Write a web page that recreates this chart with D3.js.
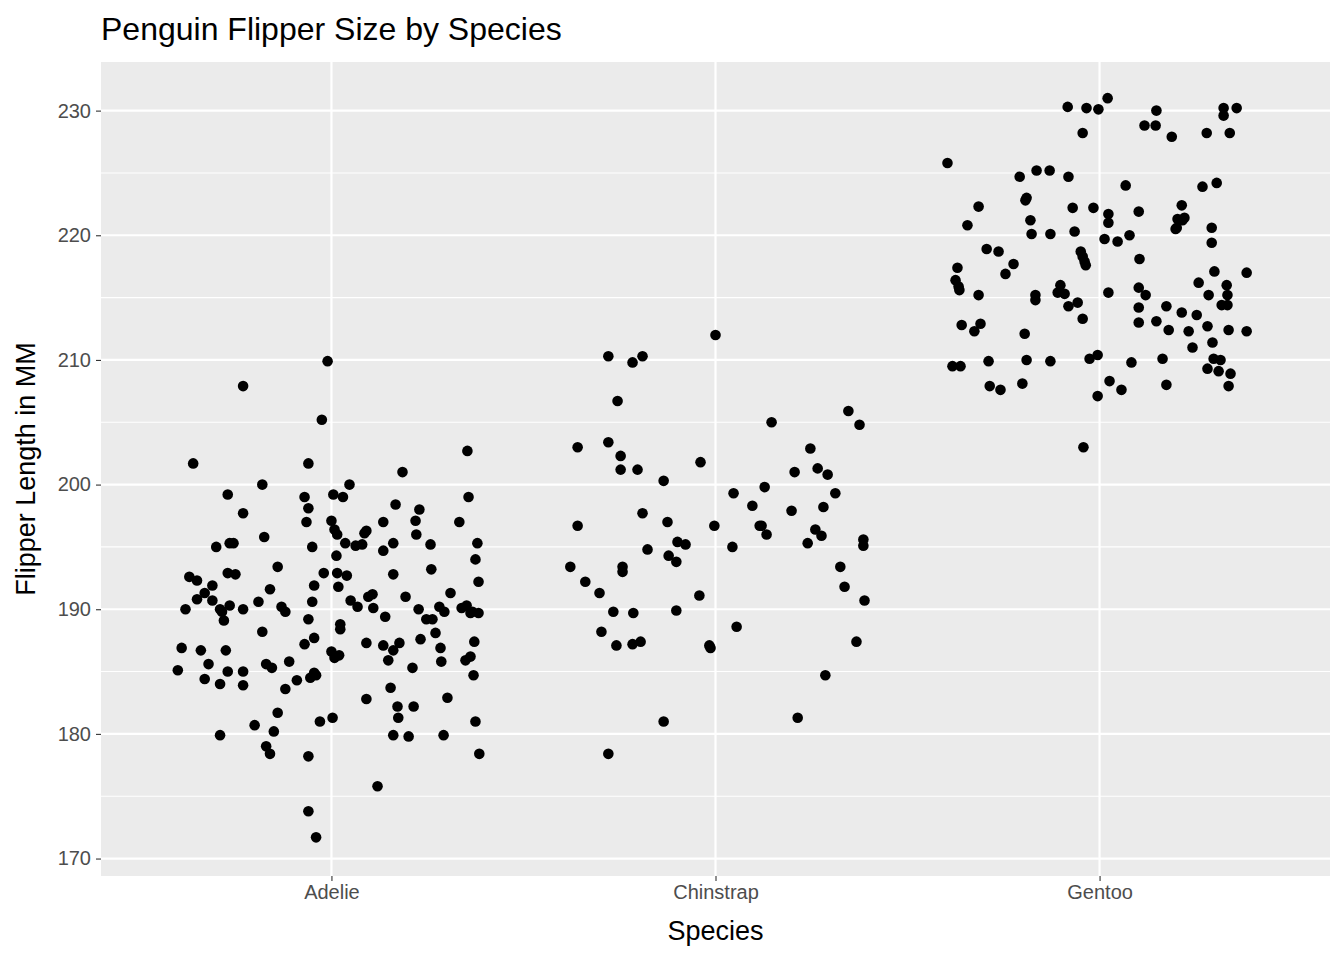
<!DOCTYPE html>
<html><head><meta charset="utf-8">
<script src="https://cdn.jsdelivr.net/npm/d3@7"></script>
<style>body{margin:0;background:#fff}text{font-family:"Liberation Sans",Arial,sans-serif}</style>
</head><body><svg id="vis" width="1344" height="960"></svg>
<script>
// DATA: [jitter offset in category units, flipper length mm]
const species = ["Adelie", "Chinstrap", "Gentoo"];
const yTicks = [170, 180, 190, 200, 210, 220, 230];
const yMinor = [175, 185, 195, 205, 215, 225];

const adelie = [[-0.40,185.1],[-0.39,186.9],[-0.38,190.0],[-0.37,192.6],[-0.35,192.3],[-0.36,201.7],[-0.35,190.8],[-0.34,186.7],[-0.33,191.3],[-0.33,184.4],[-0.32,185.6],[-0.31,191.9],[-0.31,190.7],[-0.30,195.0],[-0.29,184.0],[-0.29,190.0],[-0.29,179.9],[-0.285,189.8],[-0.28,189.1],[-0.275,186.7],[-0.27,192.9],[-0.27,199.2],[-0.27,185.0],[-0.265,190.3],[-0.265,195.3],[-0.255,195.3],[-0.25,192.8],[-0.23,197.7],[-0.23,207.9],[-0.23,190.0],[-0.23,185.0],[-0.23,183.9],[-0.20,180.7],[-0.19,190.6],[-0.18,200.0],[-0.18,188.2],[-0.175,195.8],[-0.17,185.6],[-0.17,179.0],[-0.16,178.4],[-0.16,191.6],[-0.155,185.3],[-0.15,180.2],[-0.14,193.4],[-0.14,181.7],[-0.13,190.2],[-0.12,189.8],[-0.12,183.6],[-0.11,185.8],[-0.09,184.3],[-0.07,187.2],[-0.07,199.0],[-0.06,201.7],[-0.06,198.1],[-0.065,197.0],[-0.06,189.2],[-0.06,178.2],[-0.06,173.8],[-0.055,184.5],[-0.05,190.6],[-0.05,195.0],[-0.045,191.9],[-0.045,184.9],[-0.045,187.7],[-0.04,171.7],[-0.04,184.7],[-0.03,181.0],[-0.025,205.2],[-0.02,192.9],[-0.01,209.9],[0.0,197.1],[0.0,186.6],[0.003,181.3],[0.005,199.2],[0.008,196.4],[0.008,186.1],[0.013,194.3],[0.015,192.9],[0.015,196.0],[0.018,191.8],[0.02,186.3],[0.023,188.4],[0.023,188.8],[0.03,199.0],[0.036,195.3],[0.04,192.7],[0.047,200.0],[0.05,190.7],[0.063,195.1],[0.068,190.2],[0.08,195.2],[0.086,196.1],[0.091,196.3],[0.091,187.3],[0.091,182.8],[0.096,191.0],[0.107,191.2],[0.109,190.1],[0.12,175.8],[0.135,197.0],[0.135,194.7],[0.135,187.1],[0.14,189.4],[0.148,185.9],[0.154,183.7],[0.161,179.9],[0.161,186.7],[0.161,192.8],[0.161,195.3],[0.167,198.4],[0.172,182.2],[0.174,181.3],[0.177,187.3],[0.185,201.0],[0.193,191.0],[0.201,179.8],[0.211,185.3],[0.214,182.2],[0.219,197.1],[0.221,196.0],[0.227,190.0],[0.229,198.0],[0.232,187.6],[0.247,189.2],[0.258,195.2],[0.260,193.2],[0.263,189.2],[0.271,188.1],[0.281,190.2],[0.284,186.9],[0.286,185.8],[0.292,179.9],[0.294,189.8],[0.302,182.9],[0.310,191.3],[0.333,197.0],[0.339,190.1],[0.349,185.9],[0.352,190.3],[0.354,202.7],[0.357,199.0],[0.362,189.7],[0.362,186.2],[0.367,189.8],[0.370,184.7],[0.372,187.4],[0.375,181.0],[0.375,194.0],[0.380,195.3],[0.383,192.2],[0.383,189.7],[0.385,178.4]];

const chinstrap = [[-0.378,193.4],[-0.359,203.0],[-0.359,196.7],[-0.339,192.2],[-0.302,191.3],[-0.297,188.2],[-0.279,210.3],[-0.279,203.4],[-0.279,178.4],[-0.266,189.8],[-0.258,187.1],[-0.255,206.7],[-0.247,202.3],[-0.247,201.2],[-0.242,193.4],[-0.242,193.0],[-0.216,209.8],[-0.216,187.2],[-0.214,189.7],[-0.203,201.2],[-0.195,187.4],[-0.190,210.3],[-0.190,197.7],[-0.177,194.8],[-0.135,200.3],[-0.135,181.0],[-0.125,197.0],[-0.122,194.3],[-0.102,193.8],[-0.102,189.9],[-0.099,195.4],[-0.078,195.2],[-0.042,191.1],[-0.039,201.8],[-0.016,187.1],[-0.013,186.9],[-0.003,196.7],[0.0,212.0],[0.044,195.0],[0.047,199.3],[0.055,188.6],[0.096,198.3],[0.115,196.7],[0.12,196.7],[0.128,199.8],[0.133,196.0],[0.146,205.0],[0.198,197.9],[0.206,201.0],[0.214,181.3],[0.240,195.3],[0.247,202.9],[0.260,196.4],[0.266,201.3],[0.276,195.9],[0.281,198.2],[0.286,184.7],[0.292,200.8],[0.312,199.3],[0.325,193.4],[0.336,191.8],[0.346,205.9],[0.367,187.4],[0.375,204.8],[0.385,195.6],[0.385,195.1],[0.388,190.7]];

const gentoo = [[-0.396,225.8],[-0.383,209.5],[-0.375,216.4],[-0.370,217.4],[-0.367,215.9],[-0.365,215.6],[-0.362,209.5],[-0.359,212.8],[-0.344,220.8],[-0.326,212.3],[-0.315,222.3],[-0.315,215.2],[-0.310,212.9],[-0.294,218.9],[-0.289,209.9],[-0.286,207.9],[-0.263,218.7],[-0.258,207.6],[-0.245,216.9],[-0.224,217.7],[-0.208,224.7],[-0.201,208.1],[-0.195,212.1],[-0.190,210.0],[-0.193,222.8],[-0.190,223.0],[-0.180,221.2],[-0.177,220.1],[-0.167,215.2],[-0.167,214.8],[-0.164,225.2],[-0.130,225.2],[-0.128,220.1],[-0.128,209.9],[-0.109,215.4],[-0.102,216.0],[-0.091,215.3],[-0.083,230.3],[-0.081,224.7],[-0.081,214.3],[-0.070,222.2],[-0.065,220.3],[-0.057,214.6],[-0.049,218.7],[-0.044,218.3],[-0.044,228.2],[-0.044,213.3],[-0.042,203.0],[-0.039,217.9],[-0.036,217.6],[-0.034,230.2],[-0.026,210.1],[-0.016,222.2],[-0.005,210.4],[-0.005,207.1],[-0.003,230.1],[0.013,219.7],[0.021,231.0],[0.023,221.7],[0.023,221.0],[0.023,215.4],[0.026,208.3],[0.047,219.5],[0.057,207.6],[0.068,224.0],[0.078,220.0],[0.083,209.8],[0.102,221.9],[0.102,215.8],[0.102,214.2],[0.102,213.0],[0.104,218.1],[0.117,228.8],[0.120,215.2],[0.146,228.8],[0.148,230.0],[0.148,213.1],[0.164,210.1],[0.174,208.0],[0.174,214.3],[0.180,212.4],[0.188,227.9],[0.198,220.5],[0.201,220.6],[0.203,221.3],[0.214,222.4],[0.214,213.8],[0.216,221.2],[0.221,221.4],[0.232,212.3],[0.242,211.0],[0.253,213.6],[0.258,216.2],[0.268,223.9],[0.279,228.2],[0.281,209.3],[0.281,212.7],[0.284,215.2],[0.292,220.6],[0.292,219.4],[0.294,211.4],[0.297,210.1],[0.299,217.1],[0.305,224.2],[0.310,209.1],[0.315,210.0],[0.318,214.4],[0.323,230.2],[0.323,229.6],[0.331,216.0],[0.333,214.4],[0.333,215.2],[0.336,212.4],[0.336,207.9],[0.339,228.2],[0.341,208.9],[0.357,230.2],[0.383,217.0],[0.383,212.3]];

// DIMENSIONS
const margin = { top: 62, right: 14, bottom: 84, left: 101 };
const W = 1344, H = 960;
const pw = W - margin.left - margin.right;
const ph = H - margin.top - margin.bottom;

const svg = d3.select("#vis");
const g = svg.append("g").attr("transform", `translate(${margin.left},${margin.top})`);

const x = d3.scaleLinear().domain([0.4, 3.6]).range([0, pw]);
const y = d3.scaleLinear().domain([168.6, 233.9]).range([ph, 0]);

g.append("rect").attr("width", pw).attr("height", ph).attr("fill", "#EBEBEB");

// grid
g.selectAll(".minor").data(yMinor).join("line")
  .attr("x1", 0).attr("x2", pw).attr("y1", d => y(d)).attr("y2", d => y(d))
  .attr("stroke", "#fff").attr("stroke-width", 1.1);
g.selectAll(".major").data(yTicks).join("line")
  .attr("x1", 0).attr("x2", pw).attr("y1", d => y(d)).attr("y2", d => y(d))
  .attr("stroke", "#fff").attr("stroke-width", 2.2);
g.selectAll(".vmajor").data(species).join("line")
  .attr("y1", 0).attr("y2", ph).attr("x1", (d, i) => x(i + 1)).attr("x2", (d, i) => x(i + 1))
  .attr("stroke", "#fff").attr("stroke-width", 2.2);

// points
const groups = [adelie, chinstrap, gentoo];
groups.forEach((pts, i) => {
  g.append("g").selectAll("circle").data(pts).join("circle")
    .attr("cx", d => x(i + 1 + d[0])).attr("cy", d => y(d[1]))
    .attr("r", 5.3).attr("fill", "#000");
});

// axes
const yAxis = g.append("g").call(d3.axisLeft(y).tickValues(yTicks).tickSize(5).tickPadding(5));
const xAxis = g.append("g").attr("transform", `translate(0,${ph})`)
  .call(d3.axisBottom(x).tickValues([1, 2, 3]).tickFormat((d) => species[d - 1]).tickSize(5).tickPadding(4));
[yAxis, xAxis].forEach(a => {
  a.select(".domain").remove();
  a.selectAll("line").attr("stroke", "#333").attr("stroke-width", 1.1);
  a.selectAll("text").attr("fill", "#4D4D4D").style("font-size", "20px");
});

// titles
svg.append("text").attr("x", margin.left).attr("y", 40).text("Penguin Flipper Size by Species")
  .style("font-size", "32px").attr("fill", "#000");
svg.append("text").attr("x", margin.left + pw / 2).attr("y", 940).attr("text-anchor", "middle")
  .text("Species").style("font-size", "27px");
svg.append("text").attr("transform", `translate(35,${margin.top + ph / 2}) rotate(-90)`)
  .attr("text-anchor", "middle").text("Flipper Length in MM").style("font-size", "27px");
</script></body></html>
